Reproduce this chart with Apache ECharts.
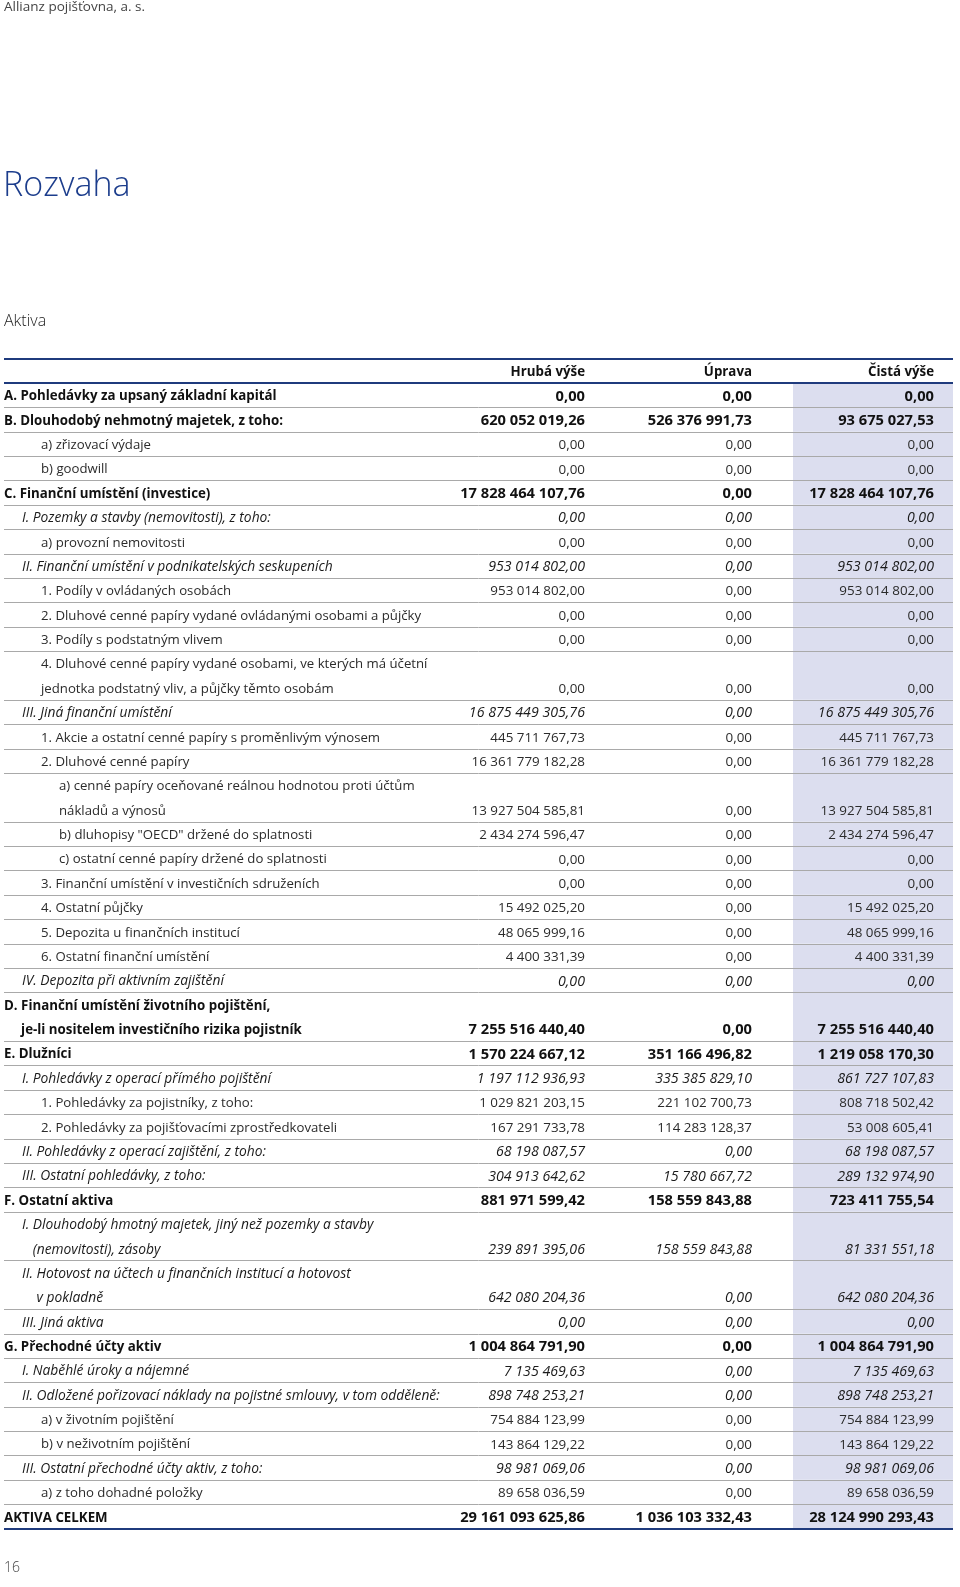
<!DOCTYPE html>
<html>
<head>
<meta charset="utf-8">
<script src="https://cdn.jsdelivr.net/npm/echarts@6/dist/echarts.min.js"></script>
<style>
html,body{margin:0;padding:0;background:#fff;}
#chart{width:960px;height:1587px;}
</style>
</head>
<body>
<div id="chart"></div>
<script>
// ---------------- DATA ----------------
const headerLabels = ['Hrubá výše', 'Úprava', 'Čistá výše'];

const rowLabels = [
  'A. Pohledávky za upsaný základní kapitál',
  'B. Dlouhodobý nehmotný majetek, z toho:',
  'a) zřizovací výdaje',
  'b) goodwill',
  'C. Finanční umístění (investice)',
  'I. Pozemky a stavby (nemovitosti), z toho:',
  'a) provozní nemovitosti',
  'II. Finanční umístění v podnikatelských seskupeních',
  '1. Podíly v ovládaných osobách',
  '2. Dluhové cenné papíry vydané ovládanými osobami a půjčky',
  '3. Podíly s podstatným vlivem',
  '4. Dluhové cenné papíry vydané osobami, ve kterých má účetní\njednotka podstatný vliv, a půjčky těmto osobám',
  'III. Jiná finanční umístění',
  '1. Akcie a ostatní cenné papíry s proměnlivým výnosem',
  '2. Dluhové cenné papíry',
  'a) cenné papíry oceňované reálnou hodnotou proti účtům\nnákladů a výnosů',
  'b) dluhopisy "OECD" držené do splatnosti',
  'c) ostatní cenné papíry držené do splatnosti',
  '3. Finanční umístění v investičních sdruženích',
  '4. Ostatní půjčky',
  '5. Depozita u finančních institucí',
  '6. Ostatní finanční umístění',
  'IV. Depozita při aktivním zajištění',
  'D. Finanční umístění životního pojištění,\nje-li nositelem investičního rizika pojistník',
  'E. Dlužníci',
  'I. Pohledávky z operací přímého pojištění',
  '1. Pohledávky za pojistníky, z toho:',
  '2. Pohledávky za pojišťovacími zprostředkovateli',
  'II. Pohledávky z operací zajištění, z toho:',
  'III. Ostatní pohledávky, z toho:',
  'F. Ostatní aktiva',
  'I. Dlouhodobý hmotný majetek, jiný než pozemky a stavby\n(nemovitosti), zásoby',
  'II. Hotovost na účtech u finančních institucí a hotovost\nv pokladně',
  'III. Jiná aktiva',
  'G. Přechodné účty aktiv',
  'I. Naběhlé úroky a nájemné',
  'II. Odložené pořizovací náklady na pojistné smlouvy, v tom odděleně:',
  'a) v životním pojištění',
  'b) v neživotním pojištění',
  'III. Ostatní přechodné účty aktiv, z toho:',
  'a) z toho dohadné položky',
  'AKTIVA CELKEM'
];

// hierarchy level of each row: section (A.–G.), group (I., II., ...), item (1., a)), sub (nested a), b), c))
const rowLevels = [
  'section','section','item','item','section','group','item','group','item','item','item','item',
  'group','item','item','sub','sub','sub','item','item','item','item','group','section','section',
  'group','item','item','group','group','section','group','group','group','section','group','group',
  'item','item','group','item','section'
];

const grossValues = [
  0, 620052019.26, 0, 0, 17828464107.76, 0, 0, 953014802.00, 953014802.00, 0, 0, 0,
  16875449305.76, 445711767.73, 16361779182.28, 13927504585.81, 2434274596.47, 0, 0,
  15492025.20, 48065999.16, 4400331.39, 0, 7255516440.40, 1570224667.12, 1197112936.93,
  1029821203.15, 167291733.78, 68198087.57, 304913642.62, 881971599.42, 239891395.06,
  642080204.36, 0, 1004864791.90, 7135469.63, 898748253.21, 754884123.99, 143864129.22,
  98981069.06, 89658036.59, 29161093625.86
];

const adjustValues = [
  0, 526376991.73, 0, 0, 0, 0, 0, 0, 0, 0, 0, 0,
  0, 0, 0, 0, 0, 0, 0,
  0, 0, 0, 0, 0, 351166496.82, 335385829.10,
  221102700.73, 114283128.37, 0, 15780667.72, 158559843.88, 158559843.88,
  0, 0, 0, 0, 0, 0, 0,
  0, 0, 1036103332.43
];

const netValues = [
  0, 93675027.53, 0, 0, 17828464107.76, 0, 0, 953014802.00, 953014802.00, 0, 0, 0,
  16875449305.76, 445711767.73, 16361779182.28, 13927504585.81, 2434274596.47, 0, 0,
  15492025.20, 48065999.16, 4400331.39, 0, 7255516440.40, 1219058170.30, 861727107.83,
  808718502.42, 53008605.41, 68198087.57, 289132974.90, 723411755.54, 81331551.18,
  642080204.36, 0, 1004864791.90, 7135469.63, 898748253.21, 754884123.99, 143864129.22,
  98981069.06, 89658036.59, 28124990293.43
];

// ---------------- STYLE / LAYOUT ----------------
const FONT = 'Open Sans';
const TEXT_DY = 1.5;
const COLORS = { blue: '#1f3b7d', grid: '#a9a9a9', shade: '#dcdeef', bold: '#111111', normal: '#2b2b2b', italic: '#1a1a1a' };

const mctx = document.createElement('canvas').getContext('2d');
function measure(text, st, size) {
  mctx.font = `${st.fontStyle} ${st.fontWeight} ${size || st.size}px "${FONT}"`;
  return mctx.measureText(text).width;
}
// pick a font size so that a sample line has the width it has on the printed page
function fitSize(sample, width, st) {
  const w = measure(sample, st, 20);
  return Math.round(20 * width / w * 10) / 10;
}

const LEVEL_STYLE = {
  section: { fontWeight: 'bold', fontStyle: 'normal', fill: COLORS.bold },
  group:   { fontWeight: 'normal', fontStyle: 'italic', fill: COLORS.italic },
  item:    { fontWeight: 'normal', fontStyle: 'normal', fill: COLORS.normal },
  sub:     { fontWeight: 'normal', fontStyle: 'normal', fill: COLORS.normal }
};
LEVEL_STYLE.section.size = fitSize('A. Pohledávky za upsaný základní kapitál', 272, LEVEL_STYLE.section);
LEVEL_STYLE.group.size = fitSize('II. Odložené pořizovací náklady na pojistné smlouvy, v tom odděleně:', 417, LEVEL_STYLE.group);
LEVEL_STYLE.item.size = fitSize('2. Dluhové cenné papíry vydané ovládanými osobami a půjčky', 380, LEVEL_STYLE.item);
LEVEL_STYLE.sub.size = LEVEL_STYLE.item.size;
LEVEL_STYLE.section.numSize = fitSize('17 828 464 107,76', 125, LEVEL_STYLE.section);
LEVEL_STYLE.group.numSize = fitSize('16 875 449 305,76', 116, LEVEL_STYLE.group);
LEVEL_STYLE.item.numSize = fitSize('953 014 802,00', 95, LEVEL_STYLE.item);
LEVEL_STYLE.sub.numSize = LEVEL_STYLE.item.numSize;

const INDENT = { section: 4, group: 22, item: 41, sub: 59 };
const HANGING = { section: true, group: true, item: false, sub: false };
const X_LEFT = 4, X_RIGHT = 953;
const COL_RIGHT = [585, 752, 934];
const SHADE_X = [793, 953];

// slots (text lines) per row
const slotCount = rowLabels.map(l => l.split('\n').length);
const slotStart = [];
{ let s = 1; slotCount.forEach(n => { slotStart.push(s); s += n; }); }
const TOTAL_SLOTS = slotStart[slotStart.length - 1] + slotCount[slotCount.length - 1];

function fmt(v) {
  const [ip, dp] = Math.abs(v).toFixed(2).split('.');
  return ip.replace(/\B(?=(\d{3})+(?!\d))/g, ' ') + ',' + dp;
}
function crisp(y) { return Math.round(y) + 0.5; }

function textEl(text, x, y, st, align, size) {
  return {
    type: 'text',
    style: {
      text: text, x: x, y: y, align: align, verticalAlign: 'middle',
      fontFamily: FONT, fontSize: size || st.size, fontWeight: st.fontWeight, fontStyle: st.fontStyle,
      fill: st.fill
    }
  };
}

function renderRow(params, api) {
  const i = params.dataIndex;
  const start = slotStart[i], n = slotCount[i];
  const level = rowLevels[i];
  const st = LEVEL_STYLE[level];
  const top = api.coord([0, start])[1];
  const bottom = api.coord([0, start + n])[1];
  const xl = api.coord([X_LEFT, 0])[0], xr = api.coord([X_RIGHT, 0])[0];
  const sx0 = api.coord([SHADE_X[0], 0])[0], sx1 = api.coord([SHADE_X[1], 0])[0];
  const children = [];
  children.push({ type: 'rect', shape: { x: sx0, y: top, width: sx1 - sx0, height: bottom - top }, style: { fill: COLORS.shade } });
  if (i > 0) {
    children.push({ type: 'line', shape: { x1: xl, y1: crisp(top), x2: xr, y2: crisp(top) }, style: { stroke: COLORS.grid, lineWidth: 1 } });
  }
  const lines = rowLabels[i].split('\n');
  const baseX = api.coord([INDENT[level], 0])[0];
  const prefix = lines[0].split(' ')[0] + ' ';
  lines.forEach((t, k) => {
    const y = api.coord([0, start + k + 0.5])[1] + TEXT_DY;
    let x = baseX;
    if (k > 0 && HANGING[level]) x = baseX + measure(prefix, st);
    children.push(textEl(t, x, y, st, 'left'));
  });
  const yv = api.coord([0, start + n - 0.5])[1] + TEXT_DY;
  [grossValues[i], adjustValues[i], netValues[i]].forEach((v, c) => {
    children.push(textEl(fmt(v), api.coord([COL_RIGHT[c], 0])[0], yv, st, 'right', st.numSize));
  });
  return { type: 'group', children: children };
}

function renderHeader(params, api) {
  const st = LEVEL_STYLE.section;
  const y = api.coord([0, 0.5])[1] + TEXT_DY;
  return {
    type: 'group',
    children: headerLabels.map((h, c) => textEl(h, api.coord([COL_RIGHT[c], 0])[0], y, st, 'right'))
  };
}

function renderFrame(params, api) {
  const ys = [0, 1, TOTAL_SLOTS];
  const xl = api.coord([X_LEFT, 0])[0], xr = api.coord([X_RIGHT, 0])[0];
  return {
    type: 'group',
    children: ys.map(s => {
      const y = Math.round(api.coord([0, s])[1]);
      return { type: 'line', shape: { x1: xl, y1: y, x2: xr, y2: y }, style: { stroke: COLORS.blue, lineWidth: 2 } };
    })
  };
}

const chart = echarts.init(document.getElementById('chart'), null, { renderer: 'canvas' });
chart.setOption({
  animation: false,
  backgroundColor: '#ffffff',
  grid: { left: 0, right: 0, top: 358.5, height: 1170 },
  xAxis: { type: 'value', min: 0, max: 960, show: false },
  yAxis: { type: 'value', min: 0, max: TOTAL_SLOTS, inverse: true, show: false },
  graphic: [
    { type: 'text', left: 4, top: 0, style: { text: 'Allianz pojišťovna, a. s.', fontFamily: FONT, fontSize: 13.5, fill: '#444444' } },
    { type: 'text', left: 3, top: 169, style: { text: 'Rozvaha', fontFamily: FONT, fontSize: 34, fontWeight: 300, fill: '#1c3d8c' } },
    { type: 'text', left: 4, top: 313, style: { text: 'Aktiva', fontFamily: FONT, fontSize: 16, fontWeight: 300, fill: '#222222' } },
    { type: 'text', left: 4, top: 1561, style: { text: '16', fontFamily: FONT, fontSize: 14, fontWeight: 300, fill: '#444444' } }
  ],
  series: [
    { type: 'custom', coordinateSystem: 'cartesian2d', silent: true, z: 1,
      data: rowLabels.map((l, i) => [0, slotStart[i]]), renderItem: renderRow },
    { type: 'custom', coordinateSystem: 'cartesian2d', silent: true, z: 2,
      data: [[0, 0]], renderItem: renderHeader },
    { type: 'custom', coordinateSystem: 'cartesian2d', silent: true, z: 3,
      data: [[0, 0]], renderItem: renderFrame }
  ]
});
</script>
</body>
</html>
